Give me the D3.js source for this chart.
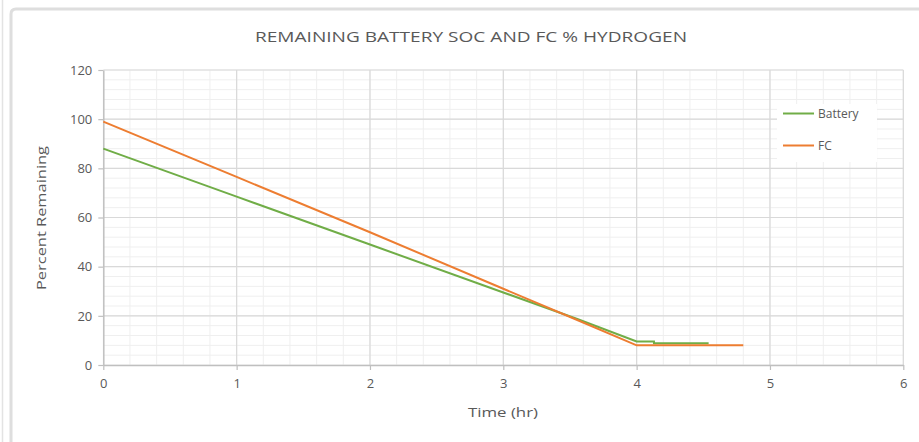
<!DOCTYPE html>
<html>
<head>
<meta charset="utf-8">
<script src="https://cdn.jsdelivr.net/npm/d3@7"></script>
<style>
  html, body { margin: 0; padding: 0; background: #fff; }
  svg { display: block; }
  text { font-family: "Open Sans", Lato, sans-serif; fill: #595959; }
</style>
</head>
<body>
<svg id="chart" width="919" height="442"></svg>
<script>
// ---- Data ----
const title = "REMAINING BATTERY SOC AND FC % HYDROGEN";
const xLabel = "Time (hr)";
const yLabel = "Percent Remaining";
const seriesNames = ["Battery", "FC"];
const seriesColors = ["#70ad47", "#ed7d31"];
const batteryTime = [0, 1, 2, 3, 3.55, 4, 4.13, 4.13, 4.54];
const batteryValue = [88, 68.5, 49, 29.5, 18.8, 9.6, 9.6, 8.8, 8.8];
const fcTime = [0, 1, 2, 3, 3.55, 4, 4.8];
const fcValue = [99, 76.5, 54, 31, 18.4, 8, 8];
const xTicks = [0, 1, 2, 3, 4, 5, 6];
const yTicks = [0, 20, 40, 60, 80, 100, 120];

// ---- Layout ----
const svg = d3.select("#chart");
const x = d3.scaleLinear().domain([0, 6]).range([103.3, 903.3]);
const y = d3.scaleLinear().domain([0, 120]).range([365, 70]);

// frame
svg.append("line").attr("x1", 2.5).attr("x2", 2.5).attr("y1", 0).attr("y2", 442)
  .attr("stroke", "#e3e3e3").attr("stroke-width", 1.5);
svg.append("path").attr("d", "M11,442 V14 Q11,9 16,9 H919")
  .attr("fill", "none").attr("stroke", "#dedede").attr("stroke-width", 3);

// minor grid
const xMinor = d3.range(0, 6.001, 0.2);
const yMinor = d3.range(0, 120.001, 4);
svg.append("g").selectAll("line").data(xMinor).join("line")
  .attr("x1", d => x(d)).attr("x2", d => x(d)).attr("y1", y(120)).attr("y2", y(0))
  .attr("stroke", "#efefef").attr("stroke-width", 1);
svg.append("g").selectAll("line").data(yMinor).join("line")
  .attr("x1", x(0)).attr("x2", x(6)).attr("y1", d => y(d)).attr("y2", d => y(d))
  .attr("stroke", "#efefef").attr("stroke-width", 1);

// major grid
svg.append("g").selectAll("line").data(xTicks.slice(1)).join("line")
  .attr("x1", d => x(d)).attr("x2", d => x(d)).attr("y1", y(120)).attr("y2", y(0))
  .attr("stroke", "#d9d9d9").attr("stroke-width", 1.2);
svg.append("g").selectAll("line").data(yTicks.slice(1)).join("line")
  .attr("x1", x(0)).attr("x2", x(6)).attr("y1", d => y(d)).attr("y2", d => y(d))
  .attr("stroke", "#d9d9d9").attr("stroke-width", 1.2);

// axes
const xAxis = svg.append("g").attr("transform", `translate(0,${y(0)})`)
  .call(d3.axisBottom(x).tickValues(xTicks).tickFormat(d3.format("d")).tickSize(5).tickSizeOuter(0).tickPadding(9));
const yAxis = svg.append("g").attr("transform", `translate(${x(0)},0)`)
  .call(d3.axisLeft(y).tickValues(yTicks).tickFormat(d3.format("d")).tickSize(5).tickSizeOuter(0).tickPadding(6));
[xAxis, yAxis].forEach(a => {
  a.select(".domain").attr("stroke", "#bfbfbf").attr("stroke-width", 1.5);
  a.selectAll(".tick line").attr("stroke", "#bfbfbf").attr("stroke-width", 1.2);
  a.selectAll(".tick text").style("font-family", "'Open Sans', Lato, sans-serif")
    .style("font-size", "13px").attr("fill", "#595959");
});

// lines
const line = d3.line().x(d => x(d[0])).y(d => y(d[1]));
const series = [
  d3.zip(batteryTime, batteryValue),
  d3.zip(fcTime, fcValue)
];
series.forEach((s, i) => {
  svg.append("path").datum(s).attr("d", line)
    .attr("fill", "none").attr("stroke", seriesColors[i]).attr("stroke-width", 2);
});

// title & labels
svg.append("text").attr("x", 471).attr("y", 42).attr("text-anchor", "middle")
  .style("font-size", "14.5px").attr("textLength", 432).attr("lengthAdjust", "spacingAndGlyphs").text(title);
svg.append("text").attr("x", 503).attr("y", 417).attr("text-anchor", "middle")
  .style("font-size", "13px").attr("textLength", 70).attr("lengthAdjust", "spacingAndGlyphs").text(xLabel);
svg.append("text").attr("transform", "translate(46,218) rotate(-90)")
  .attr("text-anchor", "middle").style("font-size", "13px")
  .attr("textLength", 144).attr("lengthAdjust", "spacingAndGlyphs").text(yLabel);

// legend
const lg = svg.append("g");
lg.append("rect").attr("x", 777).attr("y", 104).attr("width", 100).attr("height", 58).attr("fill", "#fff");
seriesNames.forEach((n, i) => {
  const yy = 113.5 + i * 32;
  lg.append("line").attr("x1", 783).attr("x2", 814).attr("y1", yy).attr("y2", yy)
    .attr("stroke", seriesColors[i]).attr("stroke-width", 2);
  lg.append("text").attr("x", 818).attr("y", yy + 4.5).style("font-size", "12px").text(n);
});
</script>
</body>
</html>
